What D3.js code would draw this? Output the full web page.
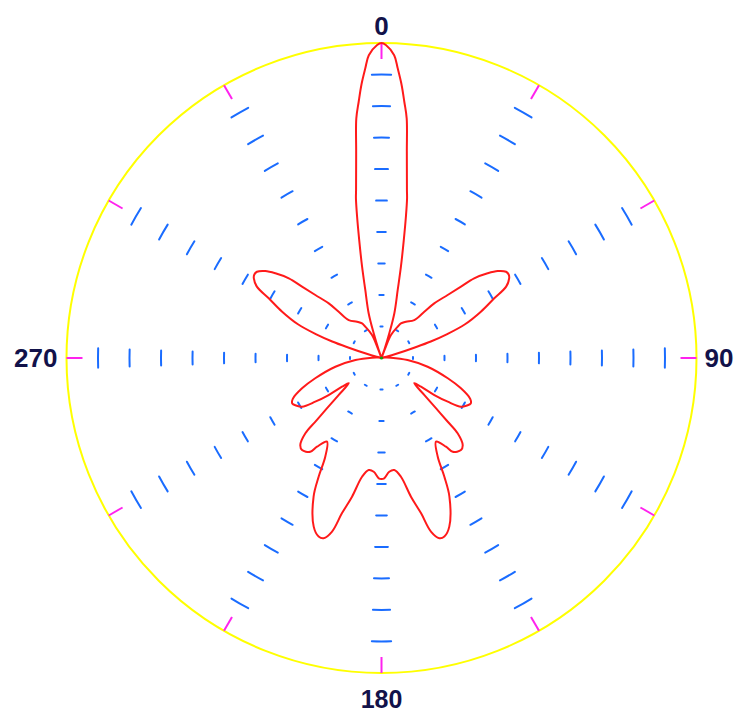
<!DOCTYPE html>
<html>
<head>
<meta charset="utf-8">
<script src="https://cdn.jsdelivr.net/npm/d3@7"></script>
<style>
  html, body { margin: 0; padding: 0; background: #ffffff; }
  svg { display: block; }
</style>
</head>
<body>
<svg id="chart" width="741" height="715"></svg>
<script>
// Radiation pattern: bearing in degrees (0 = north, clockwise) and normalised gain
const bearingDeg = [
  0, 0.8, 2.4, 3.2, 4.2, 5.1, 6.0, 7.0, 8.6, 9.1, 9.8, 10.7, 12.0, 13.4, 16.0, 17.5, 19.0, 20.0,
  21.0, 22.4, 27.4, 29.3, 34.0, 40.8, 42.8, 44.0, 46.4, 48.1, 49.3, 51.4, 53.2, 55.3, 56.7, 58.0,
  60.2, 62.1, 65.0, 68.0, 70.0, 71.5, 72.5, 74.0, 76.0, 78.0, 82.0, 88.0, 94.4, 100.7, 107.0,
  110.9, 114.7, 117.0, 119.1, 121.5, 123.4, 125.0, 126.0, 127.6, 130.8, 132.7, 133.9, 134.7,
  137.0, 139.2, 142.8, 144.0, 146.9, 150.3, 152.1, 153.9, 158.1, 160.6, 162.2, 164.1, 165.7,
  168.0, 170.7, 173.5, 176.1, 178.7, 180.0,
  181.3, 183.9, 186.5, 189.3, 192.0, 194.3, 195.9, 197.8, 199.4, 201.9, 206.1, 207.9, 209.7,
  213.1, 216.0, 217.2, 220.8, 223.0, 225.3, 226.1, 227.3, 229.2, 232.4, 234.0, 235.0, 236.6,
  238.5, 240.9, 243.0, 245.3, 249.1, 253.0, 259.3, 265.6, 272.0, 278.0, 282.0, 284.0, 286.0,
  287.5, 288.5, 290.0, 292.0, 295.0, 297.9, 299.8, 302.0, 303.3, 304.7, 306.8, 308.6, 310.7,
  311.9, 313.6, 316.0, 317.2, 319.2, 326.0, 330.7, 332.6, 337.6, 339.0, 340.0, 341.0, 342.5,
  344.0, 346.6, 348.0, 349.3, 350.2, 350.9, 351.4, 353.0, 354.0, 354.9, 355.8, 356.8, 357.6, 359.2
];
const gain = [
  1.000, 0.994, 0.962, 0.921, 0.870, 0.816, 0.765, 0.660, 0.540, 0.513, 0.455, 0.381, 0.297, 0.222, 0.148, 0.083, 0.030, 0.000,
  0.030, 0.079, 0.112, 0.126, 0.139, 0.159, 0.200, 0.241, 0.290, 0.339, 0.388, 0.431, 0.461, 0.481, 0.483, 0.478,
  0.456, 0.405, 0.348, 0.286, 0.222, 0.165, 0.111, 0.054, 0.016, 0.000, 0.010, 0.030, 0.083, 0.149, 0.220,
  0.270, 0.310, 0.318, 0.310, 0.296, 0.252, 0.205, 0.155, 0.131, 0.180, 0.236, 0.292, 0.340,
  0.378, 0.386, 0.374, 0.348, 0.317, 0.360, 0.426, 0.490, 0.577, 0.601, 0.601, 0.573, 0.509,
  0.450, 0.382, 0.358, 0.362, 0.382, 0.384,
  0.382, 0.362, 0.358, 0.382, 0.450, 0.509, 0.573, 0.601, 0.601, 0.577, 0.490, 0.426, 0.360,
  0.317, 0.348, 0.374, 0.386, 0.378, 0.340, 0.292, 0.236, 0.180, 0.131, 0.155, 0.205, 0.252,
  0.296, 0.310, 0.318, 0.310, 0.270, 0.220, 0.149, 0.083, 0.030, 0.010, 0.000, 0.016, 0.054,
  0.111, 0.165, 0.222, 0.286, 0.348, 0.405, 0.456, 0.478, 0.483, 0.481, 0.461, 0.431, 0.388,
  0.339, 0.290, 0.241, 0.200, 0.159, 0.139, 0.126, 0.112, 0.079, 0.030, 0.000, 0.030, 0.083,
  0.148, 0.222, 0.297, 0.381, 0.455, 0.513, 0.540, 0.660, 0.765, 0.816, 0.870, 0.921, 0.962, 0.994
];

// Grid rings (as fraction of full scale) and spoke bearings
const ringLevels = [0.1, 0.2, 0.3, 0.4, 0.5, 0.6, 0.7, 0.8, 0.9];
const spokeDeg = [0, 30, 60, 90, 120, 150, 180, 210, 240, 270, 300, 330];

// Compass labels
const labelDeg = [0, 90, 180, 270];
const labelText = ["0", "90", "180", "270"];

const cx = 381.5, cy = 358, R = 315;
const svg = d3.select("#chart");
const g = svg.append("g").attr("transform", `translate(${cx},${cy})`);

const rScale = d3.scaleLinear().domain([0, 1]).range([0, R]);
const aScale = d3.scaleLinear().domain([0, 360]).range([0, 2 * Math.PI]);

// Outer boundary circle
g.append("circle")
  .attr("r", rScale(1))
  .attr("fill", "none")
  .attr("stroke", "#ffff00")
  .attr("stroke-width", 2);

// Short tangential ring marks along each spoke
const halfSpan = aScale(1.95);
const marks = [];
ringLevels.forEach(v => spokeDeg.forEach(d => marks.push({ v, d })));
g.selectAll("path.ringmark")
  .data(marks)
  .join("path")
  .attr("class", "ringmark")
  .attr("d", m => {
    const p = d3.path();
    const mid = aScale(m.d) - Math.PI / 2;
    p.arc(0, 0, rScale(m.v), mid - halfSpan, mid + halfSpan);
    return p.toString();
  })
  .attr("fill", "none")
  .attr("stroke", "#1a6cff")
  .attr("stroke-width", 2)
  .attr("stroke-linecap", "round");

// Spoke ticks on the boundary
g.selectAll("line.spoketick")
  .data(spokeDeg)
  .join("line")
  .attr("class", "spoketick")
  .attr("x1", d => Math.sin(aScale(d)) * rScale(1))
  .attr("y1", d => -Math.cos(aScale(d)) * rScale(1))
  .attr("x2", d => Math.sin(aScale(d)) * (rScale(1) - 16))
  .attr("y2", d => -Math.cos(aScale(d)) * (rScale(1) - 16))
  .attr("stroke", "#ff22ee")
  .attr("stroke-width", 2);

// Pattern trace
const pts = bearingDeg.map((b, i) => [aScale(b), rScale(gain[i])]);
const radial = d3.lineRadial()
  .angle(d => d[0])
  .radius(d => d[1])
  .curve(d3.curveCatmullRomClosed.alpha(0.5));
g.append("path")
  .attr("d", radial(pts))
  .attr("fill", "none")
  .attr("stroke", "#ff1a1a")
  .attr("stroke-width", 2)
  .attr("stroke-linejoin", "round");

// Centre marker
g.append("circle").attr("r", 1.6).attr("fill", "#10a010");

// Compass labels
const labelPos = {
  0:   { x: 0, y: -R - 8, anchor: "middle" },
  90:  { x: R + 8, y: 9, anchor: "start" },
  180: { x: 0, y: R + 35, anchor: "middle" },
  270: { x: -R - 9, y: 9, anchor: "end" }
};
g.selectAll("text.compass")
  .data(labelDeg)
  .join("text")
  .attr("class", "compass")
  .attr("x", d => labelPos[d].x)
  .attr("y", d => labelPos[d].y)
  .attr("text-anchor", d => labelPos[d].anchor)
  .attr("font-family", "'Liberation Sans', Arial, sans-serif")
  .attr("font-weight", "bold")
  .attr("font-size", d => d === 180 ? 25 : 26)
  .attr("fill", "#12124a")
  .text((d, i) => labelText[i]);
</script>
</body>
</html>
